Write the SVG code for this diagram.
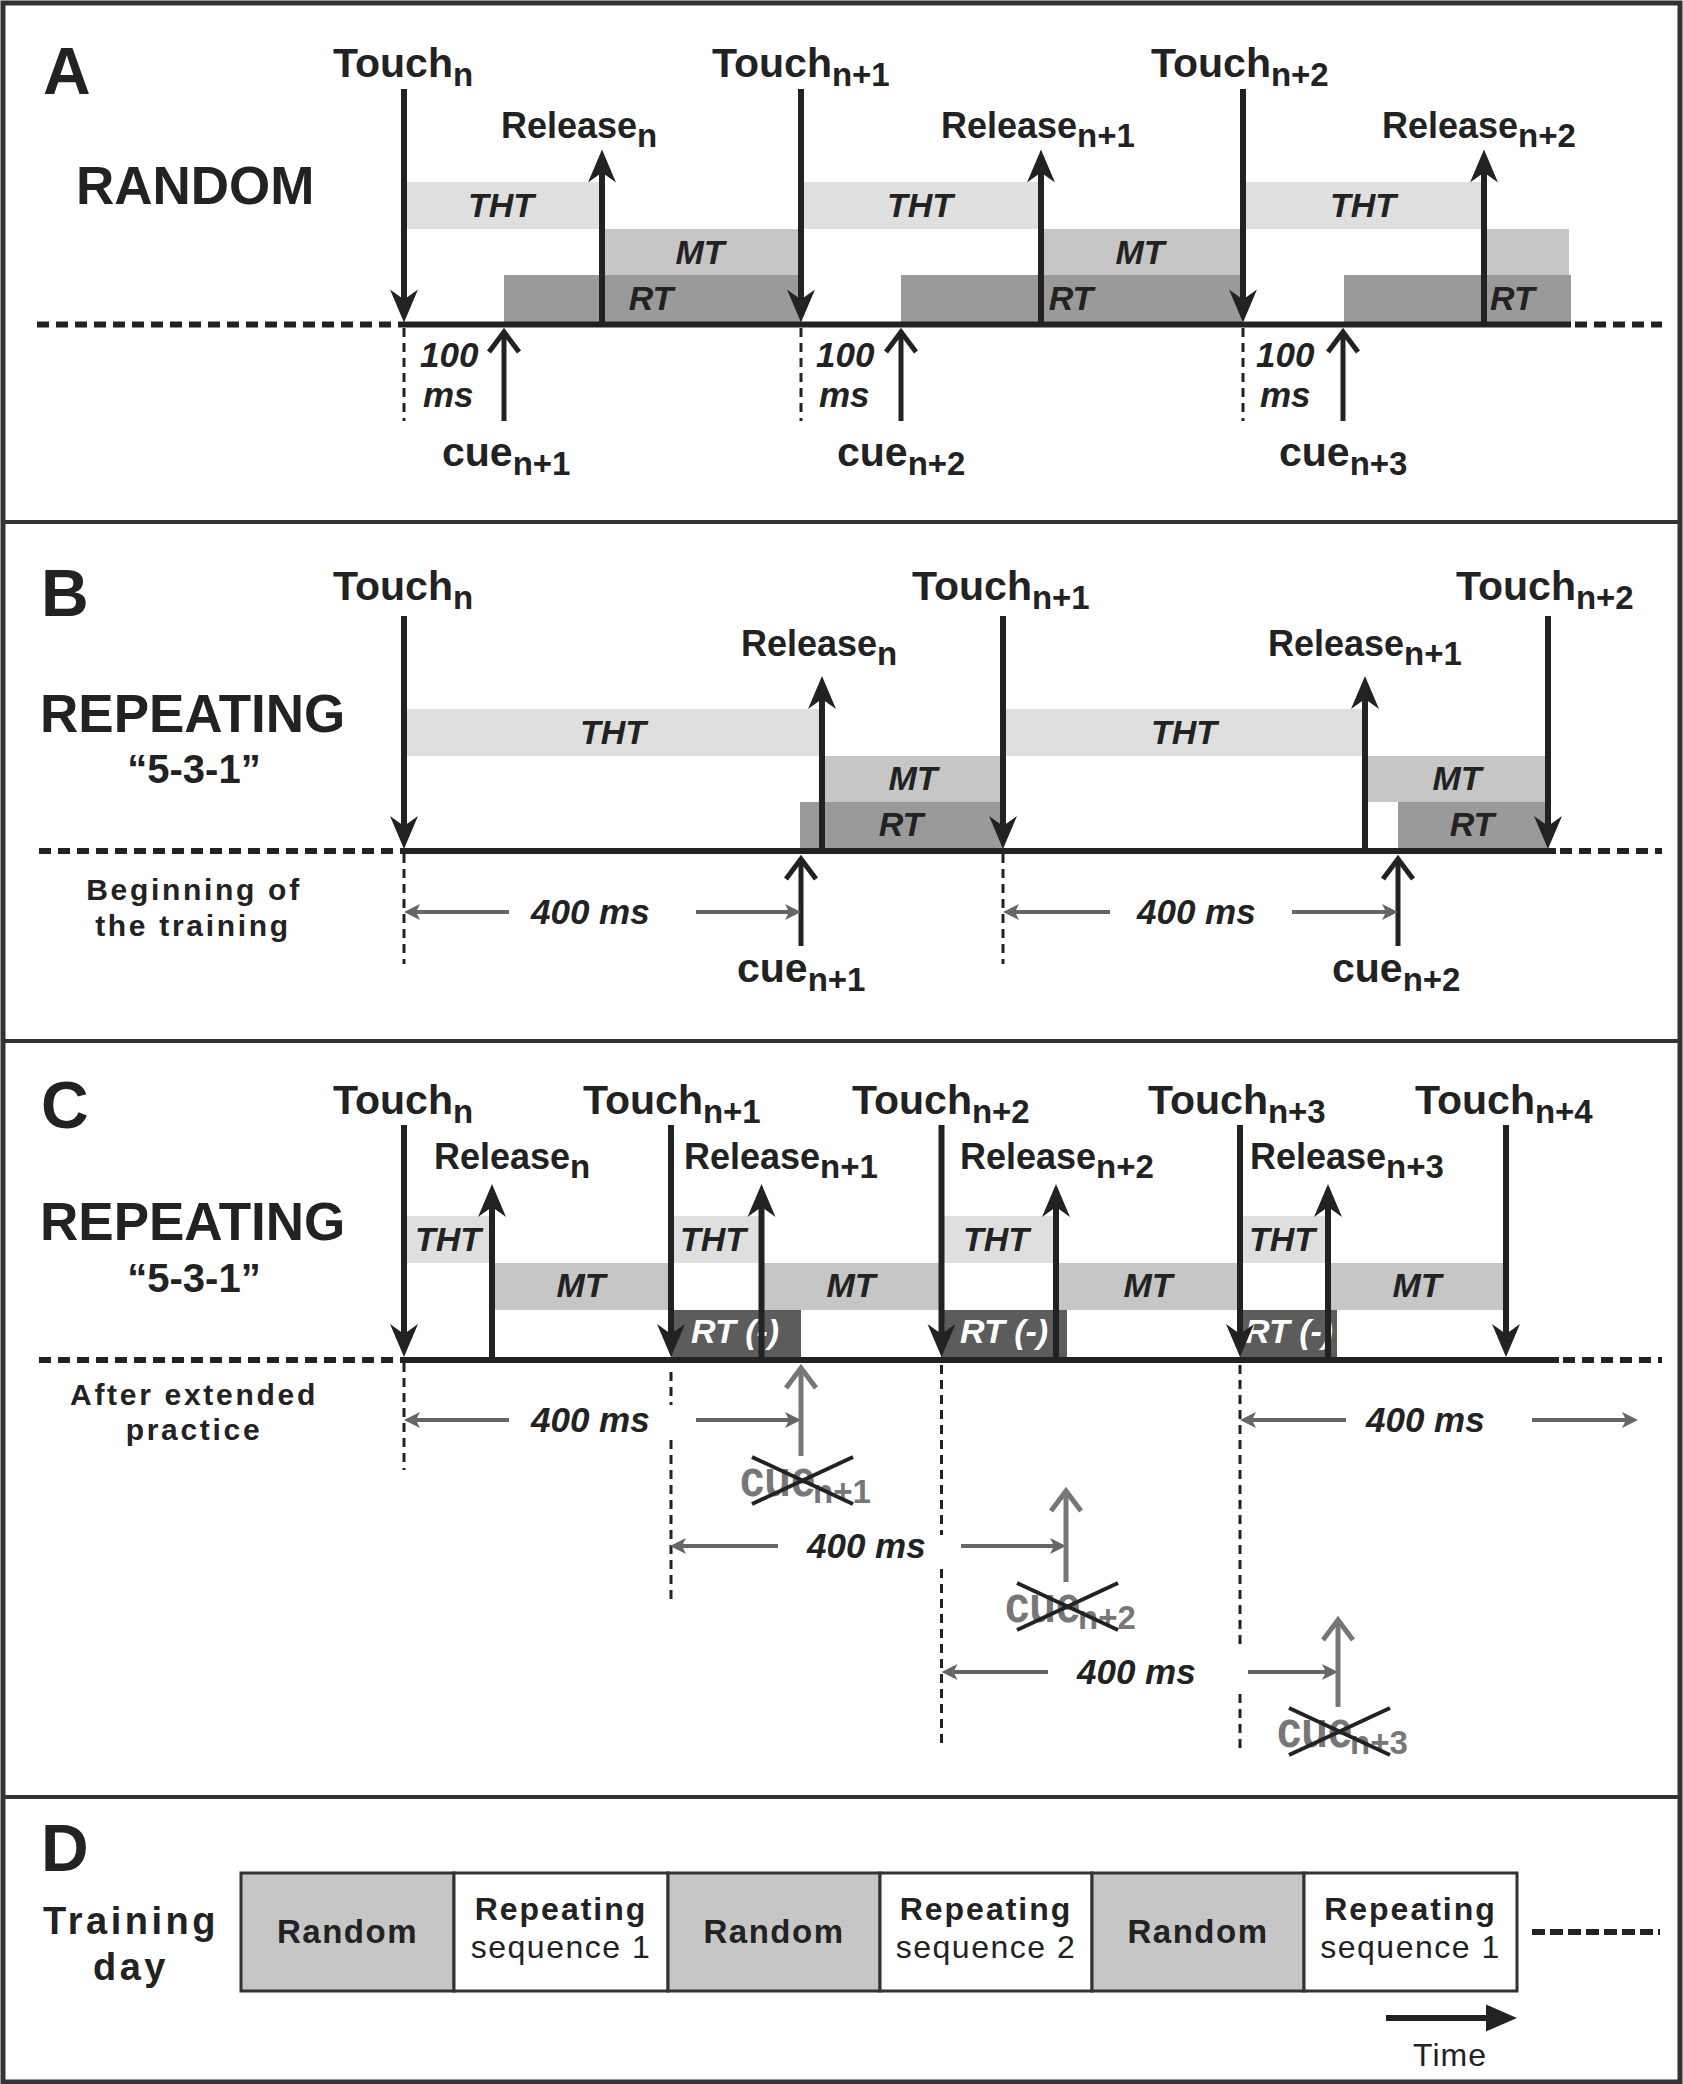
<svg xmlns="http://www.w3.org/2000/svg" width="1683" height="2084" viewBox="0 0 1683 2084">
<defs>
<style>
text{font-family:"Liberation Sans",Arial,Helvetica,sans-serif;font-weight:bold;fill:#222}
.big{font-size:66px}
.title{font-size:53px}
.q{font-size:40px}
.touch{font-size:41px}
.rel{font-size:36px}
.cue{font-size:41px}
.sub{font-size:33px}
.gcue{font-size:52px}
.bar{font-size:34px;font-style:italic}
.wbar{font-size:34px;font-style:italic;fill:#fff}
.ms{font-size:35px;font-style:italic}
.note{font-size:30px;letter-spacing:2.7px}
.mid{text-anchor:middle}
.tht{fill:#dfdfdf}
.mt{fill:#c6c6c6}
.rt{fill:#9a9a9a}
.rtm{fill:#5c5c5c}
.base{stroke:#222;stroke-width:6;fill:none}
.bdash{stroke:#222;stroke-width:6;stroke-dasharray:12 7;fill:none}
.vd{stroke:#222;stroke-width:3;stroke-dasharray:9 6;fill:none}
.ar{stroke:#222;stroke-width:6;fill:none;marker-end:url(#stealth)}
.cuea{stroke:#222;stroke-width:5;fill:none;marker-end:url(#chev)}
.cueg{stroke:#777;stroke-width:5;fill:none;marker-end:url(#chevg)}
.dim{stroke:#666;stroke-width:4;fill:none;marker-end:url(#dimh)}
.gt{fill:#777}
.x{stroke:#222;stroke-width:4}
.box{stroke:#333;stroke-width:3}
.frame{fill:#fff;stroke:#333;stroke-width:5}
.div{stroke:#333;stroke-width:4}
</style>
<marker id="stealth" markerUnits="userSpaceOnUse" viewBox="-25 -25 50 50" markerWidth="50" markerHeight="50" refX="0" refY="0" orient="auto">
<path d="M22,0 L-11,-14 L-1,0 L-11,14 Z" fill="#222"/>
</marker>
<marker id="chev" markerUnits="userSpaceOnUse" viewBox="-25 -25 50 50" markerWidth="50" markerHeight="50" refX="0" refY="0" orient="auto">
<path d="M-20,-15 L0,0 L-20,15" fill="none" stroke="#222" stroke-width="5"/>
</marker>
<marker id="chevg" markerUnits="userSpaceOnUse" viewBox="-25 -25 50 50" markerWidth="50" markerHeight="50" refX="0" refY="0" orient="auto">
<path d="M-20,-15 L0,0 L-20,15" fill="none" stroke="#777" stroke-width="5"/>
</marker>
<marker id="dimh" markerUnits="userSpaceOnUse" viewBox="-20 -20 40 40" markerWidth="40" markerHeight="40" refX="0" refY="0" orient="auto">
<path d="M12,0 L-4,-8 L0,0 L-4,8 Z" fill="#666"/>
</marker>
<marker id="timeh" markerUnits="userSpaceOnUse" viewBox="-25 -25 60 50" markerWidth="60" markerHeight="50" refX="0" refY="0" orient="auto">
<path d="M28,0 L-3,-13.5 L-3,13.5 Z" fill="#222"/>
</marker>
</defs>
<rect x="0" y="0" width="1683" height="2084" fill="#fff"/>
<rect class="frame" x="3" y="3" width="1677" height="2079"/>
<g id="dividers">
<line class="div" x1="3" y1="522" x2="1680" y2="522"/>
<line class="div" x1="3" y1="1041" x2="1680" y2="1041"/>
<line class="div" x1="3" y1="1797" x2="1680" y2="1797"/>
</g>

<!-- PANEL A -->
<g id="panel-A">
<text class="big" x="43" y="94">A</text>
<text class="title" x="76" y="204">RANDOM</text>
<g id="A-bars">
<rect class="tht" x="404" y="182" width="198" height="47"/>
<rect class="tht" x="801" y="182" width="240" height="47"/>
<rect class="tht" x="1243" y="182" width="241" height="47"/>
<rect class="mt" x="602" y="229" width="199" height="46"/>
<rect class="mt" x="1041" y="229" width="202" height="46"/>
<rect class="mt" x="1484" y="229" width="85" height="46"/>
<rect class="rt" x="504" y="275" width="297" height="47"/>
<rect class="rt" x="901" y="275" width="342" height="47"/>
<rect class="rt" x="1344" y="275" width="227" height="47"/>
<text class="bar mid" x="501" y="217">THT</text>
<text class="bar mid" x="920" y="217">THT</text>
<text class="bar mid" x="1363" y="217">THT</text>
<text class="bar mid" x="700" y="264">MT</text>
<text class="bar mid" x="1140" y="264">MT</text>
<text class="bar mid" x="651" y="310">RT</text>
<text class="bar mid" x="1071" y="310">RT</text>
<text class="bar" x="1490" y="310">RT</text>
</g>
<g id="A-timeline">
<line class="bdash" x1="37" y1="324.5" x2="404" y2="324.5"/>
<line class="base" x1="404" y1="324.5" x2="1571" y2="324.5"/>
<line class="bdash" x1="1575" y1="324.5" x2="1662" y2="324.5"/>
<line class="vd" x1="404" y1="328" x2="404" y2="421"/>
<line class="vd" x1="801" y1="328" x2="801" y2="421"/>
<line class="vd" x1="1243" y1="328" x2="1243" y2="421"/>
</g>
<g id="A-arrows">
<line class="ar" x1="404" y1="89" x2="404" y2="300.5"/>
<line class="ar" x1="801" y1="89" x2="801" y2="300.5"/>
<line class="ar" x1="1243" y1="89" x2="1243" y2="300.5"/>
<line class="ar" x1="602" y1="324" x2="602" y2="171.5"/>
<line class="ar" x1="1041" y1="324" x2="1041" y2="171.5"/>
<line class="ar" x1="1484" y1="324" x2="1484" y2="171.5"/>
<line class="cuea" x1="504" y1="421" x2="504" y2="332"/>
<line class="cuea" x1="901" y1="421" x2="901" y2="332"/>
<line class="cuea" x1="1343" y1="421" x2="1343" y2="332"/>
</g>
<g id="A-labels">
<text class="touch" x="333" y="76.5">Touch<tspan class="sub" dy="9">n</tspan></text>
<text class="touch" x="712" y="76.5">Touch<tspan class="sub" dy="9">n+1</tspan></text>
<text class="touch" x="1151" y="76.5">Touch<tspan class="sub" dy="9">n+2</tspan></text>
<text class="rel" x="501" y="138">Release<tspan class="sub" dy="9">n</tspan></text>
<text class="rel" x="941" y="138">Release<tspan class="sub" dy="9">n+1</tspan></text>
<text class="rel" x="1382" y="138">Release<tspan class="sub" dy="9">n+2</tspan></text>
<text class="ms" x="420" y="366.5">100</text>
<text class="ms" x="423" y="407">ms</text>
<text class="ms" x="816" y="366.5">100</text>
<text class="ms" x="819" y="407">ms</text>
<text class="ms" x="1256" y="366.5">100</text>
<text class="ms" x="1260" y="407">ms</text>
<text class="cue" x="442" y="466">cue<tspan class="sub" dy="9">n+1</tspan></text>
<text class="cue" x="837" y="466">cue<tspan class="sub" dy="9">n+2</tspan></text>
<text class="cue" x="1279" y="466">cue<tspan class="sub" dy="9">n+3</tspan></text>
</g>
</g>

<!-- PANEL B -->
<g id="panel-B">
<text class="big" x="41" y="616">B</text>
<text class="title" x="40" y="732">REPEATING</text>
<text class="q mid" x="194" y="783">“5-3-1”</text>
<text class="note mid" x="194" y="900">Beginning of</text>
<text class="note mid" x="193" y="936">the training</text>
<g id="B-bars">
<rect class="tht" x="404" y="709" width="418" height="47"/>
<rect class="tht" x="1003" y="709" width="362" height="47"/>
<rect class="mt" x="822" y="756" width="181" height="46"/>
<rect class="mt" x="1365" y="756" width="183" height="46"/>
<rect class="rt" x="800" y="802" width="203" height="47"/>
<rect class="rt" x="1398" y="802" width="150" height="47"/>
<text class="bar mid" x="613" y="744">THT</text>
<text class="bar mid" x="1184" y="744">THT</text>
<text class="bar mid" x="913" y="790">MT</text>
<text class="bar mid" x="1457" y="790">MT</text>
<text class="bar mid" x="901" y="836">RT</text>
<text class="bar mid" x="1472" y="836">RT</text>
</g>
<g id="B-timeline">
<line class="bdash" x1="39" y1="851" x2="404" y2="851"/>
<line class="base" x1="404" y1="851" x2="1556" y2="851"/>
<line class="bdash" x1="1560" y1="851" x2="1662" y2="851"/>
<line class="vd" x1="404" y1="854" x2="404" y2="964"/>
<line class="vd" x1="1003" y1="854" x2="1003" y2="964"/>
</g>
<g id="B-arrows">
<line class="ar" x1="404" y1="616" x2="404" y2="827"/>
<line class="ar" x1="1003" y1="616" x2="1003" y2="827"/>
<line class="ar" x1="1548" y1="616" x2="1548" y2="827"/>
<line class="ar" x1="822" y1="851" x2="822" y2="698"/>
<line class="ar" x1="1365" y1="851" x2="1365" y2="698"/>
<line class="cuea" x1="801" y1="946" x2="801" y2="859"/>
<line class="cuea" x1="1398" y1="946" x2="1398" y2="859"/>
<line class="dim" x1="509" y1="912" x2="416" y2="912"/>
<line class="dim" x1="696" y1="912" x2="789" y2="912"/>
<line class="dim" x1="1110" y1="912" x2="1015" y2="912"/>
<line class="dim" x1="1292" y1="912" x2="1386" y2="912"/>
</g>
<g id="B-labels">
<text class="touch" x="333" y="600">Touch<tspan class="sub" dy="9">n</tspan></text>
<text class="touch" x="912" y="600">Touch<tspan class="sub" dy="9">n+1</tspan></text>
<text class="touch" x="1456" y="600">Touch<tspan class="sub" dy="9">n+2</tspan></text>
<text class="rel" x="741" y="656">Release<tspan class="sub" dy="9">n</tspan></text>
<text class="rel" x="1268" y="656">Release<tspan class="sub" dy="9">n+1</tspan></text>
<text class="ms" x="531" y="924">400 ms</text>
<text class="ms" x="1137" y="924">400 ms</text>
<text class="cue" x="737" y="982">cue<tspan class="sub" dy="9">n+1</tspan></text>
<text class="cue" x="1332" y="982">cue<tspan class="sub" dy="9">n+2</tspan></text>
</g>
</g>

<!-- PANEL C -->
<g id="panel-C">
<text class="big" x="41" y="1128">C</text>
<text class="title" x="40" y="1240">REPEATING</text>
<text class="q mid" x="194" y="1292">“5-3-1”</text>
<text class="note mid" x="194" y="1405">After extended</text>
<text class="note mid" x="194" y="1440">practice</text>
<g id="C-bars">
<rect class="tht" x="404" y="1216" width="88" height="47"/>
<rect class="tht" x="671" y="1216" width="90" height="47"/>
<rect class="tht" x="941" y="1216" width="115" height="47"/>
<rect class="tht" x="1240" y="1216" width="88" height="47"/>
<rect class="mt" x="492" y="1263" width="179" height="47"/>
<rect class="mt" x="761" y="1263" width="180" height="47"/>
<rect class="mt" x="1056" y="1263" width="184" height="47"/>
<rect class="mt" x="1328" y="1263" width="178" height="47"/>
<rect class="rtm" x="671" y="1310" width="130" height="48"/>
<rect class="rtm" x="941" y="1310" width="126" height="48"/>
<rect class="rtm" x="1240" y="1310" width="97" height="48"/>
<text class="bar" x="415" y="1251">THT</text>
<text class="bar" x="680" y="1251">THT</text>
<text class="bar" x="963" y="1251">THT</text>
<text class="bar" x="1249" y="1251">THT</text>
<text class="bar mid" x="581" y="1297">MT</text>
<text class="bar mid" x="851" y="1297">MT</text>
<text class="bar mid" x="1148" y="1297">MT</text>
<text class="bar mid" x="1417" y="1297">MT</text>
<text class="wbar" x="691" y="1343">RT (-)</text>
<text class="wbar" x="960" y="1343">RT (-)</text>
<text class="wbar" x="1245" y="1343">RT (-)</text>
</g>
<g id="C-timeline">
<line class="bdash" x1="39" y1="1360" x2="404" y2="1360"/>
<line class="base" x1="404" y1="1360" x2="1559" y2="1360"/>
<line class="bdash" x1="1563" y1="1360" x2="1662" y2="1360"/>
<line class="vd" x1="404" y1="1363" x2="404" y2="1470"/>
<line class="vd" x1="671" y1="1372" x2="671" y2="1405"/>
<line class="vd" x1="671" y1="1440" x2="671" y2="1600"/>
<line class="vd" x1="941.5" y1="1365" x2="941.5" y2="1535"/>
<line class="vd" x1="941.5" y1="1569" x2="941.5" y2="1749"/>
<line class="vd" x1="1240" y1="1365" x2="1240" y2="1650"/>
<line class="vd" x1="1240" y1="1694" x2="1240" y2="1749"/>
</g>
<g id="C-arrows">
<line class="ar" x1="404" y1="1125" x2="404" y2="1335"/>
<line class="ar" x1="671" y1="1125" x2="671" y2="1335"/>
<line class="ar" x1="941.5" y1="1125" x2="941.5" y2="1335"/>
<line class="ar" x1="1240" y1="1125" x2="1240" y2="1335"/>
<line class="ar" x1="1506" y1="1125" x2="1506" y2="1335"/>
<line class="ar" x1="492" y1="1360" x2="492" y2="1206"/>
<line class="ar" x1="761.5" y1="1360" x2="761.5" y2="1206"/>
<line class="ar" x1="1056" y1="1360" x2="1056" y2="1206"/>
<line class="ar" x1="1328" y1="1360" x2="1328" y2="1206"/>
<line class="dim" x1="509" y1="1420" x2="416" y2="1420"/>
<line class="dim" x1="696" y1="1420" x2="789" y2="1420"/>
<line class="dim" x1="1346" y1="1420" x2="1252" y2="1420"/>
<line class="dim" x1="1532" y1="1420" x2="1626" y2="1420"/>
<line class="dim" x1="778" y1="1546" x2="682" y2="1546"/>
<line class="dim" x1="961" y1="1546" x2="1054" y2="1546"/>
<line class="dim" x1="1048" y1="1672" x2="953.5" y2="1672"/>
<line class="dim" x1="1248" y1="1672" x2="1326" y2="1672"/>
<line class="cueg" x1="801" y1="1456" x2="801" y2="1368"/>
<line class="cueg" x1="1066" y1="1582" x2="1066" y2="1491"/>
<line class="cueg" x1="1338" y1="1707" x2="1338" y2="1620"/>
</g>
<g id="C-labels">
<text class="touch" x="333" y="1113.5">Touch<tspan class="sub" dy="9">n</tspan></text>
<text class="touch" x="583" y="1113.5">Touch<tspan class="sub" dy="9">n+1</tspan></text>
<text class="touch" x="852" y="1113.5">Touch<tspan class="sub" dy="9">n+2</tspan></text>
<text class="touch" x="1148" y="1113.5">Touch<tspan class="sub" dy="9">n+3</tspan></text>
<text class="touch" x="1415" y="1113.5">Touch<tspan class="sub" dy="9">n+4</tspan></text>
<text class="rel" x="434" y="1169">Release<tspan class="sub" dy="9">n</tspan></text>
<text class="rel" x="684" y="1169">Release<tspan class="sub" dy="9">n+1</tspan></text>
<text class="rel" x="960" y="1169">Release<tspan class="sub" dy="9">n+2</tspan></text>
<text class="rel" x="1250" y="1169">Release<tspan class="sub" dy="9">n+3</tspan></text>
<text class="ms" x="531" y="1432">400 ms</text>
<text class="ms" x="1366" y="1432">400 ms</text>
<text class="ms" x="807" y="1558">400 ms</text>
<text class="ms" x="1077" y="1684">400 ms</text>
</g>
<g id="C-cancelled-cues">
<g id="cue-x1">
<text class="gcue gt" transform="translate(740,1496) scale(0.84,1)">cue</text>
<text class="sub gt" x="813" y="1503">n+1</text>
<line class="x" x1="752" y1="1457" x2="853" y2="1504"/>
<line class="x" x1="752" y1="1504" x2="853" y2="1457"/>
</g>
<g id="cue-x2">
<text class="gcue gt" transform="translate(1005,1622) scale(0.84,1)">cue</text>
<text class="sub gt" x="1078" y="1629">n+2</text>
<line class="x" x1="1017" y1="1583" x2="1118" y2="1630"/>
<line class="x" x1="1017" y1="1630" x2="1118" y2="1583"/>
</g>
<g id="cue-x3">
<text class="gcue gt" transform="translate(1277,1747) scale(0.84,1)">cue</text>
<text class="sub gt" x="1350" y="1754">n+3</text>
<line class="x" x1="1289" y1="1708" x2="1390" y2="1755"/>
<line class="x" x1="1289" y1="1755" x2="1390" y2="1708"/>
</g>
</g>
</g>

<!-- PANEL D -->
<g id="panel-D">
<text class="big" x="41" y="1871">D</text>
<text x="131" y="1934" text-anchor="middle" style="font-size:38px;letter-spacing:3.5px">Training</text>
<text x="131" y="1980" text-anchor="middle" style="font-size:38px;letter-spacing:3.5px">day</text>
<g id="block-1"><rect class="box mt" x="241" y="1873" width="213" height="118"/><text class="mid" x="347.5" y="1943" style="font-size:33px;letter-spacing:1.5px">Random</text></g>
<g id="block-2"><rect class="box" fill="#fff" x="454" y="1873" width="214" height="118"/><text class="mid" x="561" y="1920" style="font-size:32px;letter-spacing:2px">Repeating</text><text class="mid" x="561" y="1958" style="font-size:32px;font-weight:normal;letter-spacing:1.5px">sequence 1</text></g>
<g id="block-3"><rect class="box mt" x="668" y="1873" width="212" height="118"/><text class="mid" x="774" y="1943" style="font-size:33px;letter-spacing:1.5px">Random</text></g>
<g id="block-4"><rect class="box" fill="#fff" x="880" y="1873" width="212" height="118"/><text class="mid" x="986" y="1920" style="font-size:32px;letter-spacing:2px">Repeating</text><text class="mid" x="986" y="1958" style="font-size:32px;font-weight:normal;letter-spacing:1.5px">sequence 2</text></g>
<g id="block-5"><rect class="box mt" x="1092" y="1873" width="212" height="118"/><text class="mid" x="1198" y="1943" style="font-size:33px;letter-spacing:1.5px">Random</text></g>
<g id="block-6"><rect class="box" fill="#fff" x="1304" y="1873" width="213" height="118"/><text class="mid" x="1410.5" y="1920" style="font-size:32px;letter-spacing:2px">Repeating</text><text class="mid" x="1410.5" y="1958" style="font-size:32px;font-weight:normal;letter-spacing:1.5px">sequence 1</text></g>
<line x1="1532" y1="1932" x2="1660" y2="1932" stroke="#222" stroke-width="6" stroke-dasharray="13 5"/>
<line x1="1386" y1="2018" x2="1489" y2="2018" stroke="#222" stroke-width="6" marker-end="url(#timeh)"/>
<text class="mid" x="1450" y="2066" style="font-size:32px;font-weight:normal;letter-spacing:1px">Time</text>
</g>
</svg>
